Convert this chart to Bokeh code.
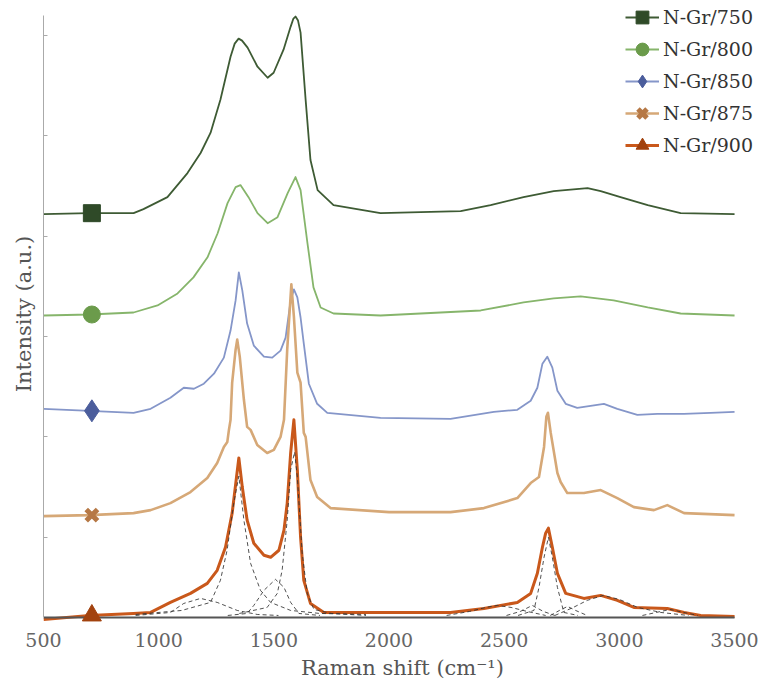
from bokeh.plotting import figure
from bokeh.models import Legend, LegendItem, FixedTicker
from bokeh.embed import file_html
from bokeh.resources import INLINE

# ---------------- data ----------------
series_names = ["N-Gr/750", "N-Gr/800", "N-Gr/850", "N-Gr/875", "N-Gr/900"]
offsets = [402, 301, 204, 101, 2]
marker_x = 710

wn_750 = [500, 700, 891, 934, 1038, 1125, 1182, 1225, 1268, 1312, 1330, 1347, 1362, 1386, 1429, 1473, 1499,
          1542, 1573, 1585, 1594, 1605, 1616, 1638, 1659, 1690, 1759, 1963, 2311, 2441, 2584, 2715, 2862,
          2919, 3005, 3123, 3266, 3500]
i_750 = [0, 1, 1, 5, 17, 41, 61, 81, 114, 157, 170, 175, 173, 166, 147, 136, 141,
         164, 187, 195, 197, 193, 181, 114, 54, 24, 9, 1, 3, 9, 17, 23, 26,
         23, 17, 9, 1, 0]

wn_800 = [500, 700, 891, 995, 1082, 1151, 1212, 1256, 1299, 1334, 1355, 1390, 1429, 1473, 1516, 1560, 1594,
          1616, 1646, 1672, 1703, 1759, 1963, 2398, 2584, 2715, 2832, 2975, 3123, 3266, 3500]
i_800 = [0, 1, 3, 10, 22, 38, 58, 82, 112, 128, 130, 118, 102, 92, 98, 122, 138,
         125, 72, 28, 8, 2, 0, 5, 13, 17, 19, 15, 8, 2, 0]

wn_850 = [500, 700, 891, 965, 1051, 1109, 1153, 1196, 1240, 1283, 1312, 1334, 1348, 1363, 1384, 1413, 1457,
          1493, 1529, 1551, 1573, 1587, 1602, 1616, 1630, 1652, 1688, 1732, 1963, 2267, 2455, 2557, 2615,
          2644, 2666, 2687, 2709, 2731, 2767, 2817, 2933, 2991, 3078, 3165, 3280, 3396, 3500]
i_850 = [4, 2, 0, 4, 15, 25, 24, 29, 39, 55, 82, 112, 140, 122, 89, 67, 56,
         55, 62, 75, 112, 123, 115, 95, 69, 29, 9, 0, -5, -6, 1, 3, 12,
         25, 49, 56, 45, 22, 9, 5, 9, 4, -2, -1, -1, 0, 1]

wn_875 = [500, 700, 891, 965, 1051, 1138, 1211, 1254, 1283, 1298, 1305, 1312, 1319, 1334, 1341, 1352, 1370,
          1384, 1399, 1428, 1471, 1500, 1529, 1544, 1558, 1576, 1587, 1602, 1616, 1630, 1638, 1659, 1688,
          1746, 2000, 2267, 2412, 2557, 2615, 2651, 2673, 2683, 2690, 2702, 2731, 2745, 2774, 2846, 2919,
          2991, 3063, 3150, 3208, 3281, 3500]
i_875 = [0, 1, 3, 6, 13, 24, 38, 53, 69, 74, 86, 96, 133, 166, 176, 159, 116,
         89, 86, 71, 63, 66, 79, 96, 166, 231, 199, 143, 133, 83, 79, 36, 19,
         8, 4, 4, 8, 18, 33, 39, 69, 99, 103, 83, 43, 34, 23, 23, 26,
         18, 9, 6, 11, 3, 1]

wn_900 = [500, 600, 700, 891, 965, 1051, 1138, 1211, 1254, 1290, 1319, 1338, 1348, 1363, 1384, 1413, 1457,
          1486, 1522, 1544, 1558, 1573, 1587, 1602, 1616, 1630, 1659, 1717, 2000, 2267, 2412, 2557, 2615,
          2644, 2666, 2680, 2692, 2709, 2731, 2767, 2846, 2919, 2991, 3063, 3208, 3281, 3353, 3500]
i_900 = [-4, -2, 0, 2, 3, 13, 22, 32, 45, 68, 102, 138, 157, 128, 95, 72, 60,
         58, 65, 85, 112, 162, 195, 145, 78, 35, 12, 3, 3, 3, 7, 13, 22,
         42, 68, 82, 87, 68, 42, 22, 17, 20, 15, 8, 7, 3, 0, -1]

# fitted components of N-Gr/900 (dashed)
fit_d4_x = [900, 1051, 1109, 1182, 1254, 1341, 1428, 1520]
fit_d4_y = [0, 3, 12, 17, 13, 5, 1, 0]
fit_d1_x = [900, 1100, 1225, 1268, 1297, 1326, 1348, 1370, 1399, 1442, 1486, 1573, 1700, 1900]
fit_d1_y = [1, 5, 13, 35, 65, 112, 139, 95, 52, 25, 13, 5, 2, 1]
fit_d3_x = [1300, 1384, 1413, 1457, 1507, 1544, 1573, 1609, 1700]
fit_d3_y = [0, 2, 10, 25, 36, 28, 13, 2, 0]
fit_g_x = [1350, 1471, 1515, 1536, 1558, 1573, 1590, 1602, 1623, 1645, 1674, 1750, 1900]
fit_g_y = [2, 8, 22, 45, 95, 145, 163, 138, 62, 22, 6, 2, 0]
fit_a_x = [2250, 2350, 2420, 2470, 2530, 2600, 2680]
fit_a_y = [0, 4, 8, 10, 8, 4, 0]
fit_b_x = [2510, 2570, 2622, 2670, 2720]
fit_b_y = [0, 4, 10, 4, 0]
fit_2d_x = [2560, 2629, 2651, 2673, 2692, 2709, 2731, 2759, 2820]
fit_2d_y = [0, 5, 28, 58, 78, 58, 28, 3, 0]
fit_c_x = [2700, 2740, 2775, 2810, 2860]
fit_c_y = [0, 5, 9, 5, 0]
fit_e_x = [2720, 2800, 2860, 2930, 3000, 3080, 3180, 3300]
fit_e_y = [0, 8, 15, 20, 16, 8, 3, 0]
fit_f_x = [3100, 3160, 3220, 3280, 3340]
fit_f_y = [0, 3, 6, 3, 0]

x_ticks = [500, 1000, 1500, 2000, 2500, 3000, 3500]
x_axis_bounds = (500, 3500)
baseline_level = 0
y_ticks = [80, 180, 280, 380, 480, 580]
y_axis_bounds = (0, 600)

# ---------------- styles ----------------
line_colors = ["#3e5b34", "#86b56b", "#8596c9", "#d6a877", "#c9581b"]
marker_colors = ["#2f4a28", "#6b9b4b", "#4b5d9c", "#b67845", "#a2420e"]
markers = ["square", "circle", "diamond", "x", "triangle"]
marker_sizes = [17, 17, 22, 16, 19]
line_widths = [1.8, 1.8, 1.8, 2.6, 3.0]
FONT = "DejaVu Serif"

# the frame runs a little past the axes (right, top, bottom) so the legend and the
# lowest marker are not clipped; the y axis stops at the data area
p = figure(width=761, height=686, x_range=(500, 3617), y_range=(-10, 615),
           output_backend="svg", toolbar_location=None,
           min_border_left=43, min_border_right=0, min_border_top=0, min_border_bottom=59)
p.outline_line_color = None
p.xgrid.visible = False
p.ygrid.visible = False
p.background_fill_color = "white"

series = [(wn_750, i_750), (wn_800, i_800), (wn_850, i_850), (wn_875, i_875), (wn_900, i_900)]

fits = [(fit_d4_x, fit_d4_y), (fit_d1_x, fit_d1_y), (fit_d3_x, fit_d3_y), (fit_g_x, fit_g_y),
        (fit_a_x, fit_a_y), (fit_b_x, fit_b_y), (fit_2d_x, fit_2d_y), (fit_c_x, fit_c_y),
        (fit_e_x, fit_e_y), (fit_f_x, fit_f_y)]

line_renderers = []
for k, (wx, iy) in enumerate(series):
    off = offsets[k]
    ys = [v + off for v in iy]
    line_renderers.append(p.line(wx, ys, line_color=line_colors[k], line_width=line_widths[k],
                                 line_join="round"))

for fx, fy in fits:
    p.line(fx, [v + offsets[4] for v in fy], line_color="#333333", line_width=1,
           line_dash="4 3", line_alpha=0.85)

# dark horizontal axis line at zero intensity, spanning the x axis extent
p.line(list(x_axis_bounds), [baseline_level, baseline_level], line_color="#555555", line_width=2)

items = []
for k, (wx, iy) in enumerate(series):
    off = offsets[k]
    j = min(range(len(wx)), key=lambda t: abs(wx[t] - marker_x))
    my = iy[j] + off
    if markers[k] == "x":
        sr = p.scatter([marker_x], [my], marker="x", size=marker_sizes[k],
                       line_color=marker_colors[k], line_width=5)
    else:
        sr = p.scatter([marker_x], [my], marker=markers[k], size=marker_sizes[k],
                       fill_color=marker_colors[k], line_color=marker_colors[k])
    items.append(LegendItem(label=series_names[k], renderers=[line_renderers[k], sr]))

# axes
p.xaxis.ticker = FixedTicker(ticks=x_ticks)
p.xaxis.axis_line_color = None
p.xaxis.major_tick_in = 0
p.xaxis.major_tick_out = 0
p.xaxis.minor_tick_line_color = None
p.xaxis.major_label_text_font = FONT
p.xaxis.major_label_text_font_size = "19px"
p.xaxis.major_label_text_color = "#666666"
p.xaxis.major_label_standoff = 5
p.xaxis.axis_label = "Raman shift (cm\u207b\u00b9)"
p.xaxis.axis_label_text_font = FONT
p.xaxis.axis_label_text_font_size = "21px"
p.xaxis.axis_label_text_font_style = "normal"
p.xaxis.axis_label_text_color = "#555555"
p.xaxis.axis_label_standoff = 6

p.yaxis.ticker = FixedTicker(ticks=y_ticks)
p.yaxis.bounds = y_axis_bounds
p.yaxis.major_tick_in = 4
p.yaxis.major_tick_out = 0
p.yaxis.minor_tick_line_color = None
p.yaxis.major_tick_line_color = "#aaaaaa"
p.yaxis.axis_line_color = "#aaaaaa"
p.yaxis.major_label_overrides = {t: "" for t in y_ticks}
p.yaxis.major_label_standoff = 0
p.yaxis.axis_label = "Intensity (a.u.)"
p.yaxis.axis_label_text_font = FONT
p.yaxis.axis_label_text_font_size = "21px"
p.yaxis.axis_label_text_font_style = "normal"
p.yaxis.axis_label_text_color = "#555555"
p.yaxis.axis_label_standoff = 8

legend = Legend(items=items, location=(582, 466), padding=0, margin=0, spacing=0,
                glyph_width=34, glyph_height=32, label_standoff=4,
                label_text_font=FONT, label_text_font_size="19px", label_text_color="#333333",
                background_fill_alpha=0, border_line_color=None)
p.add_layout(legend)

open("out.html", "w").write(file_html(p, INLINE))
